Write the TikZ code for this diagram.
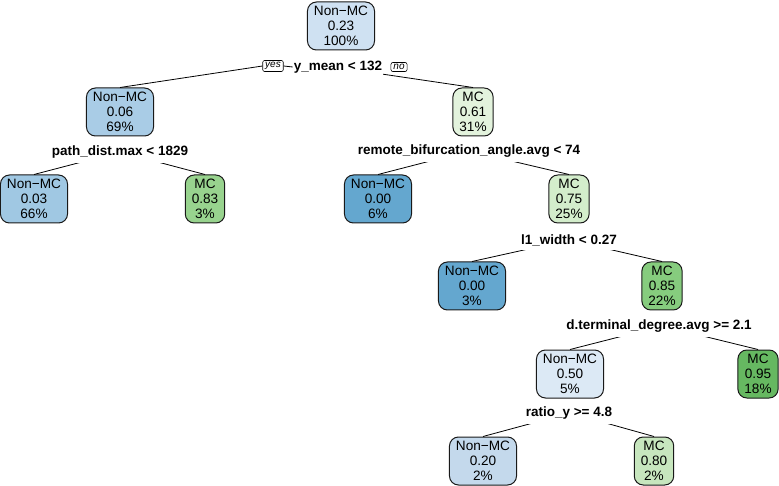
\documentclass[tikz,border=0pt]{standalone}
\usepackage{fontspec}
\setmainfont{Liberation Sans}
\usepackage{tikz}
\usetikzlibrary{positioning}
\definecolor{nmA}{HTML}{CFE1F2}
\definecolor{nmB}{HTML}{A9CCE6}
\definecolor{nmC}{HTML}{A0C8E3}
\definecolor{nmD}{HTML}{64A7CF}
\definecolor{nmE}{HTML}{DCE9F5}
\definecolor{nmF}{HTML}{C4D9EC}
\definecolor{mcA}{HTML}{E3F3DD}
\definecolor{mcB}{HTML}{D3EDCB}
\definecolor{mcC}{HTML}{C7E6BE}
\definecolor{mcD}{HTML}{98D38E}
\definecolor{mcE}{HTML}{86CC7E}
\definecolor{mcF}{HTML}{66B861}

\begin{document}
\begin{tikzpicture}[
  x=1pt, y=-1pt,
  leaf/.style={rectangle, draw=black!90, line width=1pt, rounded corners=9pt, align=center, inner xsep=6.5pt, inner ysep=2pt, minimum height=48pt, font=\fontsize{13.6}{15}\selectfont},
  split/.style={fill=white, inner xsep=1pt, inner ysep=4.5pt, font=\fontsize{13.5}{15}\selectfont\bfseries},
  tag/.style={rectangle, draw, fill=white, line width=0.6pt, rounded corners=2pt, inner xsep=2.5pt, inner ysep=1.8pt, font=\fontsize{10}{11}\selectfont\itshape},
  br/.style={line width=0.8pt}
]
\useasboundingbox (0,0) rectangle (779,486);

% Root
\node[leaf, fill=nmA] (n1) at (341,26) {Non−MC\\0.23\\100\%};

% Level 2
\node[leaf, fill=nmB] (n2) at (120,112) {Non−MC\\0.06\\69\%};
\node[leaf, fill=mcA] (n3) at (473,112) {MC\\0.61\\31\%};

% Level 3
\node[leaf, fill=nmC] (n4) at (34,199) {Non−MC\\0.03\\66\%};
\node[leaf, fill=mcD] (n5) at (205,199) {MC\\0.83\\3\%};
\node[leaf, fill=nmD] (n6) at (378,199) {Non−MC\\0.00\\6\%};
\node[leaf, fill=mcB] (n7) at (569,199) {MC\\0.75\\25\%};

% Level 4
\node[leaf, fill=nmD] (n14) at (472,286) {Non−MC\\0.00\\3\%};
\node[leaf, fill=mcE] (n15) at (662,286) {MC\\0.85\\22\%};

% Level 5
\node[leaf, fill=nmE] (n30) at (570,374) {Non−MC\\0.50\\5\%};
\node[leaf, fill=mcF] (n31) at (758,374) {MC\\0.95\\18\%};

% Level 6
\node[leaf, fill=nmF] (n60) at (483,461) {Non−MC\\0.20\\2\%};
\node[leaf, fill=mcC] (n61) at (654,461) {MC\\0.80\\2\%};

% Split points
\coordinate (c1) at (341,68);
\coordinate (c2) at (120,152);
\coordinate (c3) at (469,151);
\coordinate (c7) at (569,240);
\coordinate (c15) at (662,326);
\coordinate (c30) at (570,413);

% Branches
\draw[br] (n3.north) -- (c1);
\draw[br] (n4.north) -- (c2);
\draw[br] (n5.north) -- (c2);
\draw[br] (n6.north) -- (c3);
\draw[br] (n7.north) -- (c3);
\draw[br] (n14.north) -- (c7);
\draw[br] (n15.north) -- (c7);
\draw[br] (n30.north) -- (c15);
\draw[br] (n31.north) -- (c15);
\draw[br] (n60.north) -- (c30);
\draw[br] (n61.north) -- (c30);

% Split labels
\node[split] (s1) at (338,67) {y\_mean < 132};
\node[split] (s2) at (120,152) {path\_dist.max < 1829};
\node[split] (s3) at (469,151) {remote\_bifurcation\_angle.avg < 74};
\node[split] (s7) at (569,240) {l1\_width < 0.27};
\node[split] (s15) at (659,326) {d.terminal\_degree.avg >= 2.1};
\node[split] (s30) at (569,413) {ratio\_y >= 4.8};

% yes / no
\node[tag] (yes) at (273,66) {yes};
\node[tag] (no) at (399,67) {no};
\draw[br] (n2.north) -- (yes.west);
\draw[br] (yes.east) -- (s1.west);

\end{tikzpicture}
\end{document}
